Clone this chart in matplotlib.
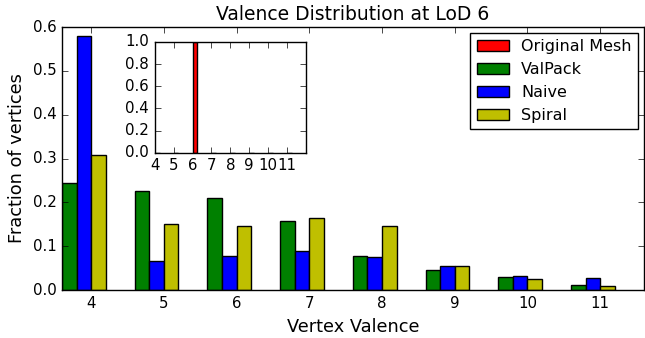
import numpy as np
import matplotlib
matplotlib.use('Agg')
from matplotlib import pyplot as plt

plt.style.use('classic')

valences = [4, 5, 6, 7, 8, 9, 10, 11]
original = [0.0, 0.0, 1.0, 0.0, 0.0, 0.0, 0.0, 0.0]
valpack = [0.244, 0.225, 0.210, 0.158, 0.077, 0.046, 0.030, 0.012]
naive = [0.580, 0.067, 0.077, 0.090, 0.075, 0.054, 0.033, 0.027]
spiral = [0.308, 0.151, 0.147, 0.164, 0.146, 0.054, 0.024, 0.009]

width = 0.2
ind = np.array(valences, dtype=float)

fig = plt.figure(figsize=(6.45, 3.38), dpi=100, facecolor='white')
ax = fig.add_axes([0.0961, 0.142, 0.902, 0.778])

b1 = ax.bar(ind - 2 * width, valpack, width, color='g', align='edge')
b2 = ax.bar(ind - width, naive, width, color='b', align='edge')
b3 = ax.bar(ind, spiral, width, color='y', align='edge')

ax.set_xlim(3.6, 11.6)
ax.set_ylim(0, 0.6)
ax.set_xticks(valences)
ax.set_yticks(np.arange(0, 0.61, 0.1))
ax.tick_params(labelsize=10.8)
ax.set_xlabel('Vertex Valence', fontsize=12.8)
ax.set_ylabel('Fraction of vertices', fontsize=12.8)
ax.set_title('Valence Distribution at LoD 6', fontsize=13.5)

# inset with the original mesh
ins = fig.add_axes([0.240, 0.548, 0.234, 0.328])
b0 = ins.bar(ind, original, 0.25, color='r', align='edge')
ins.set_xlim(4, 12)
ins.set_ylim(0, 1.0)
ins.set_xticks(valences)
ins.set_yticks(np.arange(0, 1.01, 0.2))
ins.tick_params(labelsize=10.8)

ax.legend([b0, b1, b2, b3], ['Original Mesh', 'ValPack', 'Naive', 'Spiral'],
          loc='upper right', fontsize=11.5, borderaxespad=0.35)

fig.savefig('out.png', dpi=100, facecolor='white')
